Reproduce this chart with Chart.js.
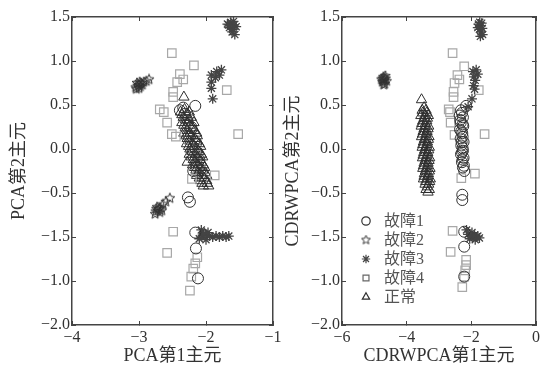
<!DOCTYPE html>
<html>
<head>
<meta charset="utf-8">
<script src="https://cdn.jsdelivr.net/npm/chart.js@4.4.1/dist/chart.umd.min.js"></script>
<style>
  html, body { margin: 0; padding: 0; background: #fff; }
  #wrap { position: relative; width: 547px; height: 367px; overflow: hidden; }
  .box { position: absolute; top: 0; }
</style>
</head>
<body>
<div id="wrap">
  <div class="box" style="left:0px;"><canvas id="pcaChart" width="300" height="367"></canvas></div>
  <div class="box" style="left:270px;"><canvas id="cdrChart" width="277" height="367"></canvas></div>
</div>
<script>
// ---- data ----
const seriesNames = ["故障1", "故障2", "故障3", "故障4", "正常"];

const yTickValues = [-2.0, -1.5, -1.0, -0.5, 0.0, 0.5, 1.0, 1.5];
const yTickLabels = ["−2.0", "−1.0", "−1.5", "−0.5", "0.0", "0.5", "1.0", "1.5"];

const pcaXTickValues = [-4, -3, -2, -1];
const pcaXTickLabels = ["−4", "−3", "−2", "−1"];
const cdrXTickValues = [-6, -4, -2, 0];
const cdrXTickLabels = ["−6", "−4", "−2", "0"];

// left panel (PCA)
const pcaFault1 = [[-2.34,0.47],[-2.16,0.49],[-2.39,0.44],[-2.31,0.40],[-2.28,0.33],[-2.22,0.25],[-2.26,0.14],[-2.15,0.06],
  [-2.20,-0.02],[-2.10,-0.12],[-2.14,-0.20],[-2.19,-0.25],[-2.27,-0.55],[-2.24,-0.60],[-2.16,-0.95],[-2.15,-1.13],[-2.12,-1.47]];
const pcaFault2 = [[-3.05,0.70],[-3.02,0.72],[-3.00,0.73],[-2.98,0.71],[-3.03,0.75],[-2.97,0.75],[-2.95,0.73],[-3.00,0.69],
  [-3.04,0.68],[-2.99,0.76],[-2.93,0.76],[-2.85,0.79],[-2.89,0.77],
  [-2.76,-0.74],[-2.75,-0.71],[-2.72,-0.70],[-2.70,-0.68],[-2.73,-0.66],[-2.68,-0.67],[-2.66,-0.70],[-2.64,-0.63],
  [-2.74,-0.68],[-2.69,-0.72],[-2.60,-0.60],[-2.54,-0.56]];
const pcaFault3 = [[-1.68,1.42],[-1.63,1.44],[-1.58,1.41],[-1.65,1.38],[-1.60,1.36],[-1.55,1.39],[-1.61,1.33],[-1.57,1.30],
  [-1.66,1.41],[-1.59,1.45],
  [-1.92,0.84],[-1.84,0.88],[-1.77,0.90],[-1.92,0.76],[-1.80,0.84],[-1.86,0.81],[-1.92,0.69],[-1.90,0.57],
  [-2.07,-0.92],[-2.05,-0.98],[-2.00,-0.97],[-1.95,-0.99],[-1.90,-1.00],[-1.85,-0.99],[-1.80,-1.00],[-1.75,-0.99],
  [-1.70,-1.00],[-1.66,-0.99],[-2.10,-1.02],[-2.00,-1.03],[-1.97,-0.95],[-2.03,-0.96]];
const pcaFault4 = [[-2.51,1.09],[-2.18,0.95],[-2.39,0.85],[-2.43,0.76],[-2.34,0.79],[-1.69,0.67],[-2.49,0.65],[-2.49,0.59],
  [-2.69,0.45],[-2.63,0.42],[-2.58,0.30],[-2.51,0.17],[-2.45,0.14],[-1.52,0.17],[-1.87,-0.30],[-2.21,-0.34],
  [-2.49,-0.94],[-2.58,-1.18],[-2.13,-1.23],[-2.16,-1.30],[-2.19,-1.36],[-2.22,-1.45],[-2.24,-1.61]];
const pcaNormal = [[-2.33,0.59],
  [-2.38,0.42],[-2.25,0.42],[-2.34,0.36],[-2.22,0.36],[-2.36,0.30],[-2.27,0.30],[-2.18,0.30],[-2.31,0.24],[-2.20,0.24],
  [-2.33,0.18],[-2.24,0.18],[-2.14,0.18],[-2.28,0.12],[-2.17,0.12],[-2.29,0.06],[-2.20,0.06],[-2.10,0.06],
  [-2.24,0.00],[-2.13,0.00],[-2.25,-0.06],[-2.16,-0.06],[-2.07,-0.06],[-2.19,-0.12],[-2.09,-0.12],[-2.28,-0.15],
  [-2.20,-0.18],[-2.12,-0.18],[-2.04,-0.18],[-2.15,-0.24],[-2.05,-0.24],[-2.14,-0.30],[-2.06,-0.30],[-1.99,-0.30],
  [-2.08,-0.36],[-1.99,-0.36],[-2.04,-0.42],[-1.96,-0.42],
  [-2.32,0.45],[-2.29,0.39],[-2.36,0.39],[-2.26,0.33],[-2.31,0.33],[-2.24,0.27],[-2.33,0.27],[-2.28,0.21],[-2.17,0.21],
  [-2.22,0.15],[-2.30,0.15],[-2.13,0.15],[-2.24,0.09],[-2.14,0.09],[-2.26,0.03],[-2.18,0.03],[-2.08,0.03],[-2.21,-0.03],
  [-2.11,-0.03],[-2.22,-0.09],[-2.13,-0.09],[-2.05,-0.09],[-2.16,-0.15],[-2.07,-0.15],[-2.17,-0.21],[-2.09,-0.21],
  [-2.02,-0.21],[-2.11,-0.27],[-2.01,-0.27],[-2.10,-0.33],[-2.03,-0.33],[-2.06,-0.39],[-1.98,-0.39],
  [-2.05,-0.99],[-2.02,-0.97]];

// right panel (CDRWPCA)
const cdrFault1 = [[-2.16,0.49],[-2.32,0.44],[-2.36,0.38],[-2.26,0.36],[-2.33,0.30],[-2.25,0.26],[-2.35,0.22],[-2.28,0.18],
  [-2.33,0.12],[-2.24,0.08],[-2.31,0.04],[-2.26,-0.02],[-2.32,-0.06],[-2.24,-0.10],[-2.29,-0.15],[-2.23,-0.19],
  [-2.29,0.41],[-2.34,0.33],[-2.27,0.28],[-2.31,0.20],[-2.27,0.14],[-2.30,0.08],[-2.27,0.01],[-2.29,-0.04],
  [-2.27,-0.12],[-2.26,-0.21],
  [-2.22,-0.25],[-2.28,-0.52],[-2.28,-0.58],[-2.22,-0.94],[-2.22,-1.11],[-2.22,-1.45]];
const cdrFault2 = [[-4.75,0.76],[-4.70,0.78],[-4.65,0.80],[-4.72,0.82],[-4.68,0.74],[-4.62,0.77],[-4.78,0.79],[-4.66,0.83],
  [-4.71,0.73],[-4.74,0.80],[-4.69,0.80],[-4.73,0.77]];
const cdrFault3 = [[-1.78,1.42],[-1.72,1.40],[-1.68,1.43],[-1.75,1.36],[-1.70,1.33],[-1.66,1.37],[-1.72,1.28],[-1.65,1.30],
  [-1.80,1.38],[-1.74,1.44],
  [-1.95,0.88],[-1.85,0.90],[-1.80,0.85],[-1.92,0.82],[-1.88,0.78],[-1.93,0.72],[-1.90,0.68],[-1.98,0.57],[-2.10,0.48],
  [-2.15,-0.92],[-2.10,-0.97],[-2.05,-1.02],[-2.00,-0.99],[-1.98,-0.95],[-1.95,-1.00],[-1.90,-0.98],[-1.88,-1.03],
  [-1.85,-1.00],[-1.80,-0.99],[-1.75,-1.01]];
const cdrFault4 = [[-2.58,1.09],[-2.22,0.94],[-2.43,0.84],[-2.37,0.79],[-2.52,0.75],[-2.55,0.65],[-2.55,0.59],[-1.77,0.67],
  [-2.70,0.45],[-2.66,0.42],[-2.64,0.30],[-2.52,0.16],[-1.59,0.17],[-1.89,-0.28],[-2.31,-0.33],[-2.58,-0.93],
  [-2.64,-1.17],[-2.16,-1.26],[-2.16,-1.32],[-2.19,-1.38],[-2.22,-1.45],[-2.28,-1.57]];
const cdrNormal = [[-3.54,0.56],
  [-3.52,0.44],[-3.40,0.44],[-3.56,0.38],[-3.44,0.38],[-3.33,0.38],[-3.50,0.32],[-3.38,0.32],[-3.55,0.26],[-3.43,0.26],
  [-3.32,0.26],[-3.49,0.20],[-3.37,0.20],[-3.54,0.14],[-3.42,0.14],[-3.31,0.14],[-3.48,0.08],[-3.36,0.08],
  [-3.52,0.02],[-3.41,0.02],[-3.30,0.02],[-3.47,-0.04],[-3.35,-0.04],[-3.51,-0.10],[-3.40,-0.10],[-3.29,-0.10],
  [-3.46,-0.16],[-3.34,-0.16],[-3.50,-0.22],[-3.39,-0.22],[-3.28,-0.22],[-3.45,-0.28],[-3.33,-0.28],
  [-3.48,-0.34],[-3.37,-0.34],[-3.27,-0.34],[-3.43,-0.40],[-3.32,-0.40],[-3.40,-0.46],[-3.30,-0.46],
  [-3.46,0.47],[-3.50,0.41],[-3.38,0.41],[-3.46,0.35],[-3.36,0.35],[-3.53,0.29],[-3.42,0.29],[-3.46,0.23],[-3.34,0.23],
  [-3.51,0.17],[-3.40,0.17],[-3.45,0.11],[-3.33,0.11],[-3.50,0.05],[-3.38,0.05],[-3.44,-0.01],[-3.32,-0.01],
  [-3.49,-0.07],[-3.37,-0.07],[-3.43,-0.13],[-3.31,-0.13],[-3.48,-0.19],[-3.36,-0.19],[-3.42,-0.25],[-3.30,-0.25],
  [-3.46,-0.31],[-3.35,-0.31],[-3.41,-0.37],[-3.29,-0.37],[-3.36,-0.43],[-3.34,-0.49]];

// ---- styling ----
const serif = "'Liberation Serif', 'Times New Roman', 'Noto Sans CJK SC', serif";
const textColor = "#333";
const axisColor = "#444";

function starImage(size, color) {
  const c = document.createElement("canvas");
  c.width = c.height = size;
  const g = c.getContext("2d");
  const cx = size / 2, cy = size / 2, R = size / 2 - 0.8, r = R * 0.45;
  g.beginPath();
  for (let k = 0; k < 10; k++) {
    const a = -Math.PI / 2 + k * Math.PI / 5;
    const rr = k % 2 ? r : R;
    g.lineTo(cx + rr * Math.cos(a), cy + rr * Math.sin(a));
  }
  g.closePath();
  g.strokeStyle = color;
  g.lineWidth = 1;
  g.stroke();
  return c;
}
const starMark = starImage(12, "#333");
const starMarkSmall = starImage(11, "#333");

const seriesStyles = [
  { pointStyle: "circle", radius: 5.5, color: "#333", width: 1 },
  { pointStyle: starMark, radius: 6, color: "#333", width: 1 },
  { pointStyle: "star", radius: 5, color: "#444", width: 1.3 },
  { pointStyle: "rect", radius: 6, color: "#a8a8a8", width: 1.2 },
  { pointStyle: "triangle", radius: 6, color: "#2e2e2e", width: 1 }
];

function toPoints(arr) {
  return arr.map(p => ({ x: p[0], y: p[1] }));
}

function buildDatasets(lists) {
  return lists.map((list, i) => ({
    label: seriesNames[i],
    data: toPoints(list),
    pointStyle: seriesStyles[i].pointStyle,
    pointRadius: seriesStyles[i].radius,
    pointHoverRadius: seriesStyles[i].radius,
    borderColor: seriesStyles[i].color,
    backgroundColor: "rgba(0,0,0,0)",
    borderWidth: seriesStyles[i].width
  }));
}

const tickGrid = { display: true, drawOnChartArea: false, drawTicks: true, tickLength: -4, color: axisColor, lineWidth: 1 };
const frame = { display: true, color: axisColor, width: 1.5 };

const cornerLegend = {
  id: "cornerLegend",
  afterDraw(chart, args, opts) {
    if (!opts.show) return;
    const ctx = chart.ctx;
    ctx.save();
    seriesNames.forEach((name, i) => {
      const x = opts.x, y = opts.y + i * opts.gap;
      const st = seriesStyles[i];
      ctx.strokeStyle = i === 3 ? "#666" : st.color;
      ctx.fillStyle = "rgba(0,0,0,0)";
      ctx.lineWidth = 1.2;
      const ps = i === 1 ? starMarkSmall : st.pointStyle;
      Chart.helpers.drawPoint(ctx, { pointStyle: ps, radius: 4.2, borderWidth: 1.2, rotation: 0 }, x, y);
      ctx.fillStyle = "#555";
      ctx.font = "16px " + serif;
      ctx.textBaseline = "middle";
      ctx.textAlign = "left";
      ctx.fillText(name, x + 18, y + 1);
    });
    ctx.restore();
  }
};

function makeChart(id, lists, cfg) {
  const ctx = document.getElementById(id);
  new Chart(ctx, {
    type: "scatter",
    data: { datasets: buildDatasets(lists) },
    options: {
      responsive: false,
      animation: false,
      layout: { padding: { left: 0, top: 17, right: cfg.padRight, bottom: 0 } },
      plugins: {
        legend: { display: false },
        tooltip: { enabled: false },
        cornerLegend: cfg.legend
      },
      scales: {
        x: {
          type: "linear", position: "bottom", min: cfg.xMin, max: cfg.xMax,
          afterBuildTicks: s => { s.ticks = cfg.xTicks.map(v => ({ value: v })); },
          afterFit: s => { s.height = 42; },
          grid: tickGrid, border: frame,
          ticks: { padding: 7, color: textColor, font: { family: serif, size: 16 }, maxRotation: 0, autoSkip: false,
                   callback: (v, i) => cfg.xLabels[i] },
          title: { display: true, text: cfg.xTitle, color: textColor, font: { family: serif, size: 18, lineHeight: 1.2 },
                   padding: { top: 0, bottom: 0 } }
        },
        x2: {
          type: "linear", position: "top", min: cfg.xMin, max: cfg.xMax,
          afterBuildTicks: s => { s.ticks = cfg.xTicks.map(v => ({ value: v })); },
          afterFit: s => { s.height = 0; },
          grid: tickGrid, border: frame, ticks: { display: false }
        },
        y: {
          type: "linear", position: "left", min: -2, max: 1.5,
          afterBuildTicks: s => { s.ticks = yTickValues.map(v => ({ value: v })); },
          afterFit: s => { s.width = 72; },
          grid: tickGrid, border: frame,
          ticks: { padding: 6, color: textColor, font: { family: serif, size: 16 }, autoSkip: false,
                   callback: (v, i) => yTickLabels[i] },
          title: { display: true, text: cfg.yTitle, color: textColor, font: { family: serif, size: 18, lineHeight: 1.2 },
                   padding: { top: cfg.yTitlePad, bottom: 0 } }
        },
        y2: {
          type: "linear", position: "right", min: -2, max: 1.5,
          afterBuildTicks: s => { s.ticks = yTickValues.map(v => ({ value: v })); },
          afterFit: s => { s.width = 0; },
          grid: tickGrid, border: frame, ticks: { display: false }
        }
      }
    },
    plugins: [cornerLegend]
  });
}

makeChart("pcaChart", [pcaFault1, pcaFault2, pcaFault3, pcaFault4, pcaNormal], {
  xMin: -4, xMax: -1, xTicks: pcaXTickValues, xLabels: pcaXTickLabels,
  xTitle: "PCA第1主元", yTitle: "PCA第2主元", yTitlePad: 8, padRight: 27,
  legend: { show: false }
});

makeChart("cdrChart", [cdrFault1, cdrFault2, cdrFault3, cdrFault4, cdrNormal], {
  xMin: -6, xMax: 0, xTicks: cdrXTickValues, xLabels: cdrXTickLabels,
  xTitle: "CDRWPCA第1主元", yTitle: "CDRWPCA第2主元", yTitlePad: 12, padRight: 5,
  legend: { show: true, x: 96, y: 221, gap: 19 }
});
</script>
</body>
</html>
